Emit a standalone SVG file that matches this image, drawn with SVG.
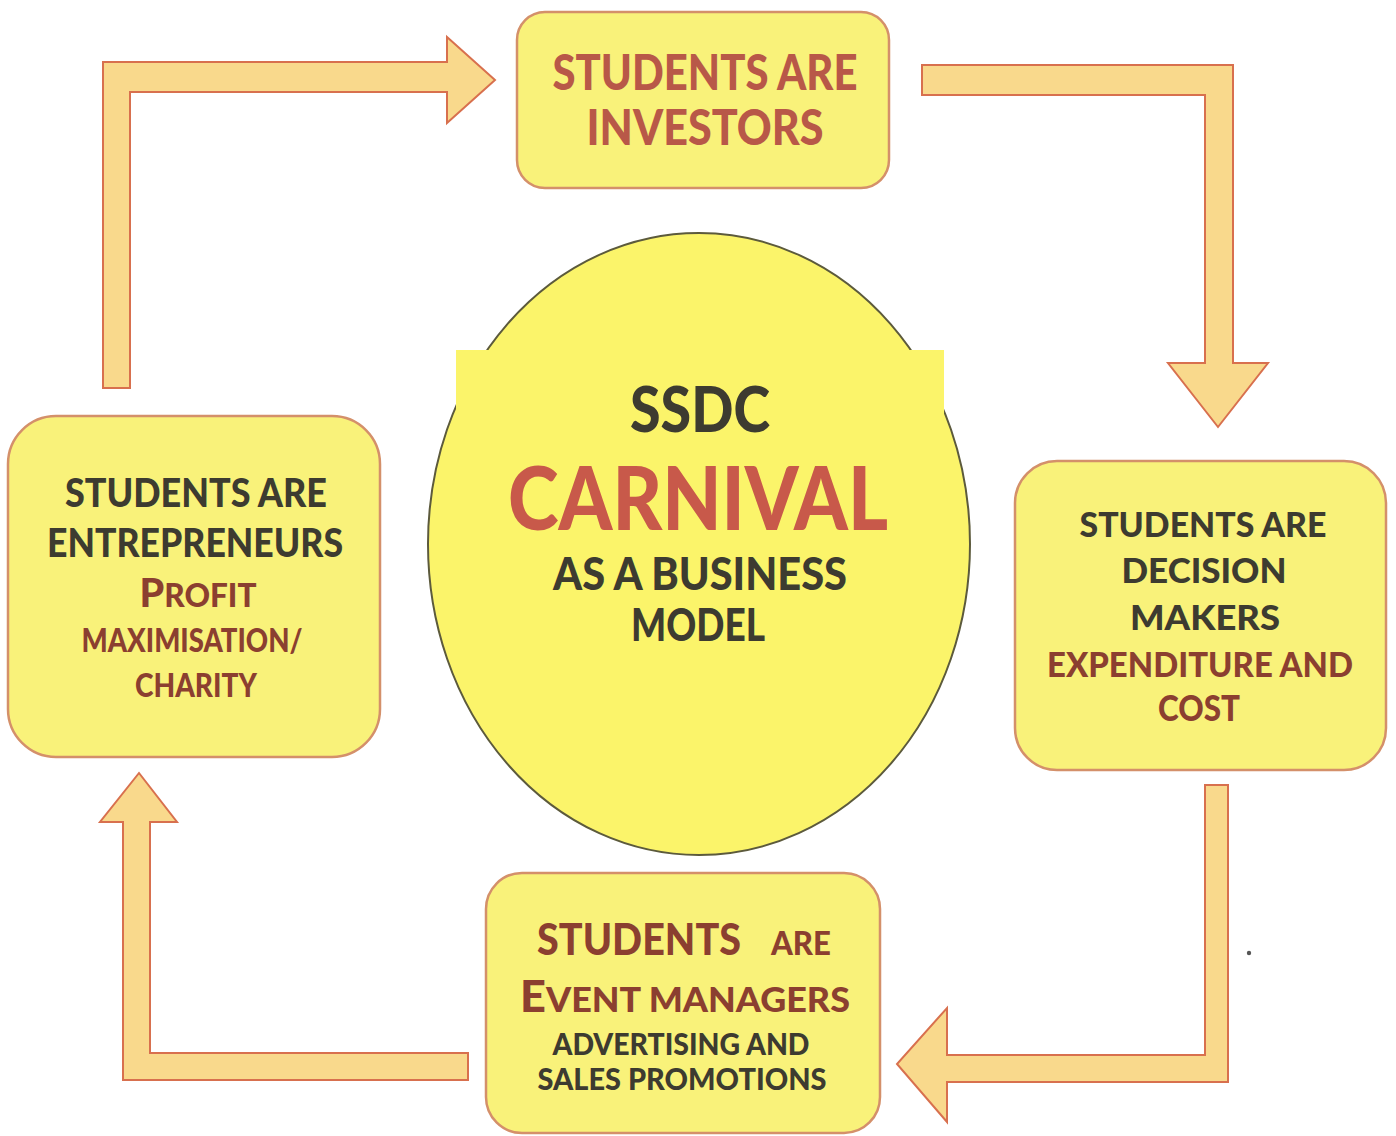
<svg xmlns="http://www.w3.org/2000/svg" width="1396" height="1136" viewBox="0 0 1396 1136">
  <style>
    .box { fill: #f9f27a; stroke: #d4906a; stroke-width: 2.5; }
    .arrow { fill: #f9d98c; stroke: #d8704e; stroke-width: 2; stroke-linejoin: miter; }
    text { font-family: Lato, "Open Sans", "Liberation Sans", sans-serif; font-weight: 900; text-anchor: middle; }
    .red { fill: #b85848; }
    .dark { fill: #3d3b30; }
    .brown { fill: #8b3f30; }
    .carn { fill: #c8594a; }
  </style>
  <rect width="1396" height="1136" fill="#ffffff"/>

  <g id="connectors">
    <path class="arrow" d="M103,388 L103,62 L447,62 L447,37 L495,80 L447,123 L447,92 L130,92 L130,388 Z"/>
    <path class="arrow" d="M922,65 L1233,65 L1233,363 L1268,363 L1218,427 L1168,363 L1205,363 L1205,95 L922,95 Z"/>
    <path class="arrow" d="M1205,785 L1228,785 L1228,1082 L947,1082 L947,1122 L897,1064 L947,1008 L947,1055 L1205,1055 Z"/>
    <path class="arrow" d="M468,1053 L468,1080 L123,1080 L123,822 L100,822 L139,773 L177,822 L150,822 L150,1053 Z"/>
  </g>

  <g id="center">
    <ellipse cx="699" cy="544" rx="271" ry="311" fill="#fbf46a" stroke="#5c5a3c" stroke-width="2"/>
    <rect x="456" y="350" width="488" height="70" fill="#fbf46a"/>
    <text class="dark" x="700" y="432" font-size="62" textLength="140" lengthAdjust="spacingAndGlyphs">SSDC</text>
    <text class="carn" x="698" y="530" font-size="88" textLength="380" lengthAdjust="spacingAndGlyphs">CARNIVAL</text>
    <text class="dark" x="700" y="590" font-size="46" textLength="294" lengthAdjust="spacingAndGlyphs">AS A BUSINESS</text>
    <text class="dark" x="698" y="641" font-size="46" textLength="134" lengthAdjust="spacingAndGlyphs">MODEL</text>
  </g>

  <g id="investors">
    <rect class="box" x="517" y="12" width="372" height="176" rx="28"/>
    <text class="red" x="705" y="90" font-size="50" textLength="305" lengthAdjust="spacingAndGlyphs">STUDENTS ARE</text>
    <text class="red" x="705" y="145" font-size="50" textLength="237" lengthAdjust="spacingAndGlyphs">INVESTORS</text>
  </g>

  <g id="decision-makers">
    <rect class="box" x="1015" y="461" width="371" height="309" rx="42"/>
    <text class="dark" x="1203" y="537" font-size="34" textLength="247" lengthAdjust="spacingAndGlyphs">STUDENTS ARE</text>
    <text class="dark" x="1204" y="583" font-size="34" textLength="165" lengthAdjust="spacingAndGlyphs">DECISION</text>
    <text class="dark" x="1205" y="630" font-size="34" textLength="150" lengthAdjust="spacingAndGlyphs">MAKERS</text>
    <text class="brown" x="1200" y="677" font-size="34" textLength="306" lengthAdjust="spacingAndGlyphs">EXPENDITURE AND</text>
    <text class="brown" x="1199" y="721" font-size="36" textLength="82" lengthAdjust="spacingAndGlyphs">COST</text>
  </g>

  <g id="event-managers">
    <rect class="box" x="486" y="873" width="394" height="260" rx="36"/>
    <text class="brown" x="639" y="955" font-size="44" textLength="204" lengthAdjust="spacingAndGlyphs">STUDENTS</text>
    <text class="brown" x="801" y="955" font-size="32" textLength="60" lengthAdjust="spacingAndGlyphs">ARE</text>
    <text class="brown" x="685" y="1012" font-size="44" textLength="330" lengthAdjust="spacingAndGlyphs">E<tspan font-size="35">VENT MANAGERS</tspan></text>
    <text class="dark" x="681" y="1055" font-size="30" textLength="257" lengthAdjust="spacingAndGlyphs">ADVERTISING AND</text>
    <text class="dark" x="682" y="1090" font-size="30" textLength="289" lengthAdjust="spacingAndGlyphs">SALES PROMOTIONS</text>
  </g>

  <g id="entrepreneurs">
    <rect class="box" x="8" y="416" width="372" height="341" rx="48"/>
    <text class="dark" x="196" y="507" font-size="40" textLength="262" lengthAdjust="spacingAndGlyphs">STUDENTS ARE</text>
    <text class="dark" x="195" y="557" font-size="40" textLength="296" lengthAdjust="spacingAndGlyphs">ENTREPRENEURS</text>
    <text class="brown" x="198" y="607" font-size="40" textLength="117" lengthAdjust="spacingAndGlyphs">P<tspan font-size="32">ROFIT</tspan></text>
    <text class="brown" x="192" y="652" font-size="33" textLength="221" lengthAdjust="spacingAndGlyphs">MAXIMISATION/</text>
    <text class="brown" x="196" y="697" font-size="33" textLength="122" lengthAdjust="spacingAndGlyphs">CHARITY</text>
  </g>

  <circle cx="1249" cy="953" r="2.2" fill="#555555"/>
</svg>
